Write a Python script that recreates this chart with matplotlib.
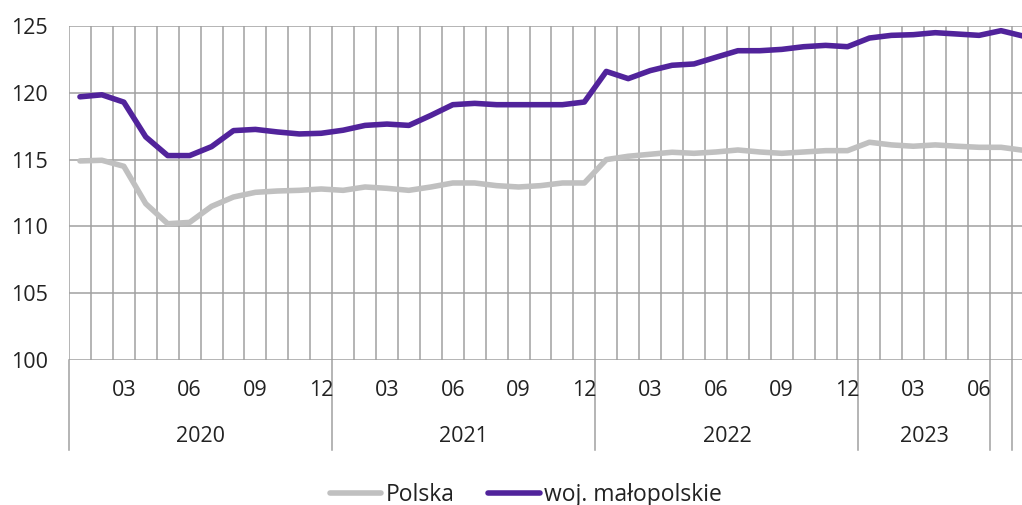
import matplotlib
matplotlib.use("Agg")
import matplotlib.pyplot as plt
import matplotlib.transforms as mtransforms

plt.rcParams['font.family'] = ['Open Sans', 'DejaVu Sans']

months = ["01","02","03","04","05","06","07","08","09","10","11","12"] * 3 + \
         ["01","02","03","04","05","06","07","08"]
years = ["2020", "2021", "2022", "2023"]

polska = [114.9, 114.95, 114.5, 111.7, 110.2, 110.3, 111.5, 112.2, 112.55, 112.65, 112.7, 112.8,
          112.7, 112.95, 112.85, 112.7, 112.95, 113.25, 113.25, 113.05, 112.95, 113.05, 113.25, 113.25,
          115.0, 115.25, 115.4, 115.55, 115.47, 115.57, 115.72, 115.57, 115.47, 115.57, 115.67, 115.67,
          116.3, 116.1, 116.0, 116.1, 116.0, 115.92, 115.92, 115.7]
malopolskie = [119.7, 119.85, 119.3, 116.7, 115.3, 115.3, 115.97, 117.17, 117.26, 117.07, 116.92, 116.97,
               117.2, 117.56, 117.66, 117.56, 118.31, 119.11, 119.21, 119.11, 119.11, 119.11, 119.11, 119.31,
               121.6, 121.06, 121.66, 122.06, 122.16, 122.66, 123.15, 123.15, 123.25, 123.45, 123.55, 123.45,
               124.1, 124.3, 124.35, 124.5, 124.4, 124.3, 124.65, 124.25]
y_ticks = [100, 105, 110, 115, 120, 125]

W, H = 1022, 505
fig = plt.figure(figsize=(W / 100, H / 100), dpi=100)
n = len(months)
cw = 21.93
left_px, top_px, bot_px = 69, 26, 360
ax = fig.add_axes([left_px / W, 1 - bot_px / H, n * cw / W, (bot_px - top_px) / H])

grid_c = "#a0a0a0"
text_c = "#222222"
fs = 15.5
for yv in y_ticks:
    ax.axhline(yv, color=grid_c, lw=1.1, zorder=1)
for i in range(n + 1):
    ax.axvline(i, color=grid_c, lw=1.1, zorder=1)

x = [i + 0.5 for i in range(n)]
l1, = ax.plot(x, polska, color="#c0c0c0", lw=4.0, solid_capstyle='round', solid_joinstyle='round', zorder=3, label="Polska")
l2, = ax.plot(x, malopolskie, color="#51239b", lw=4.0, solid_capstyle='round', solid_joinstyle='round', zorder=4, label="woj. małopolskie")

ax.set_xlim(0, n)
ax.set_ylim(100, 125)
ax.set_yticks(y_ticks)
ax.set_yticklabels([str(v) for v in y_ticks], fontsize=fs, color=text_c)
ax.tick_params(axis='y', length=0, pad=15)
ax.set_xticks([])
for s in ax.spines.values():
    s.set_visible(False)

trans = mtransforms.blended_transform_factory(ax.transData, ax.transAxes)
axh = bot_px - top_px
for i, m in enumerate(months):
    if m in ("03", "06", "09", "12"):
        ax.text(i + 0.5, -30 / axh, m, transform=trans, ha='center', va='center', fontsize=fs, color=text_c)
seps = [0, 12, 24, 36, 42, 43, 44]
for s in seps:
    ax.plot([s, s], [0, -90 / axh], transform=trans, color=grid_c, lw=1.1, clip_on=False, zorder=1)
year_spans = [(0, 12), (12, 24), (24, 36), (36, 42)]
for yl, (a, b) in zip(years, year_spans):
    ax.text((a + b) / 2, -76 / axh, yl, transform=trans, ha='center', va='center', fontsize=fs, color=text_c)

leg = fig.legend(handles=[l1, l2], loc='center', bbox_to_anchor=(526 / W, 10 / H), ncol=2,
                 frameon=False, fontsize=16.5, handlelength=2.25, handletextpad=0.2, columnspacing=1.45)
for t in leg.get_texts():
    t.set_color(text_c)

fig.savefig("out.png", dpi=100)
